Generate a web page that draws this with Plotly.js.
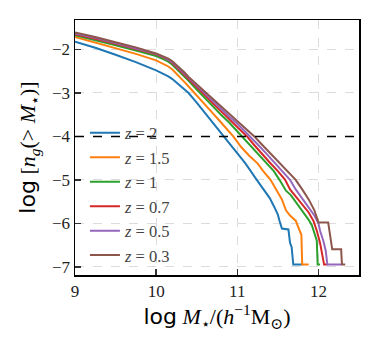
<!DOCTYPE html>
<html>
<head>
<meta charset="utf-8">
<script src="https://cdn.plot.ly/plotly-3.0.1.min.js"></script>
<style>
  html, body { margin: 0; padding: 0; background: #fff; }
  #my_graph { width: 379px; height: 345px; }
</style>
</head>
<body>
<div id="my_graph"></div>
<script>
// cumulative stellar mass functions
const labels = ['2', '1.5', '1', '0.7', '0.5', '0.3'];
const colors = ['#1f77b4', '#ff7f0e', '#2ca02c', '#d62728', '#9467bd', '#8c564b'];

const x_z2  = [9.0, 9.25, 9.5, 9.75, 10.0, 10.1, 10.15, 10.2, 10.25, 10.3, 10.35, 10.4, 10.5, 10.6, 10.7, 10.83, 10.9, 11.0, 11.1, 11.24, 11.3, 11.35, 11.4, 11.45, 11.5, 11.52, 11.55, 11.63, 11.65, 11.67, 11.69, 11.80];
const y_z2  = [-1.82, -1.96, -2.12, -2.29, -2.48, -2.57, -2.62, -2.68, -2.75, -2.84, -2.92, -3.0, -3.22, -3.45, -3.68, -4.0, -4.15, -4.38, -4.62, -5.0, -5.15, -5.3, -5.42, -5.6, -5.8, -5.94, -6.12, -6.14, -6.45, -6.55, -6.95, -6.95];

const x_z15 = [9.0, 9.25, 9.5, 9.75, 10.0, 10.1, 10.15, 10.2, 10.25, 10.3, 10.35, 10.4, 10.5, 10.6, 10.7, 10.8, 10.95, 11.05, 11.15, 11.25, 11.32, 11.41, 11.5, 11.55, 11.6, 11.65, 11.72, 11.77, 11.79, 11.80, 11.88];
const y_z15 = [-1.71, -1.84, -1.97, -2.10, -2.25, -2.34, -2.39, -2.46, -2.55, -2.65, -2.75, -2.85, -3.05, -3.25, -3.47, -3.68, -4.0, -4.25, -4.45, -4.62, -4.8, -5.0, -5.3, -5.45, -5.7, -5.82, -5.94, -6.17, -6.27, -6.95, -6.95];

const x_z1  = [9.0, 9.25, 9.5, 9.75, 10.0, 10.1, 10.15, 10.2, 10.25, 10.3, 10.35, 10.4, 10.5, 10.6, 10.7, 10.8, 10.9, 11.06, 11.15, 11.25, 11.35, 11.45, 11.52, 11.6, 11.66, 11.72, 11.8, 11.88, 11.92, 11.97, 11.98, 11.99, 12.02];
const y_z1  = [-1.67, -1.78, -1.90, -2.02, -2.15, -2.23, -2.28, -2.35, -2.44, -2.53, -2.62, -2.72, -2.92, -3.12, -3.32, -3.50, -3.68, -4.0, -4.2, -4.4, -4.58, -4.8, -5.0, -5.25, -5.35, -5.5, -5.72, -5.92, -6.05, -6.3, -6.4, -6.95, -6.95];

const x_z07 = [9.0, 9.25, 9.5, 9.75, 10.0, 10.1, 10.15, 10.2, 10.25, 10.3, 10.35, 10.4, 10.5, 10.6, 10.7, 10.8, 10.9, 11.0, 11.12, 11.2, 11.3, 11.4, 11.5, 11.59, 11.65, 11.72, 11.8, 11.88, 11.94, 11.98, 12.02, 12.05, 12.07, 12.11];
const y_z07 = [-1.65, -1.75, -1.87, -1.99, -2.11, -2.19, -2.24, -2.31, -2.40, -2.49, -2.58, -2.68, -2.86, -3.05, -3.24, -3.42, -3.60, -3.78, -4.0, -4.18, -4.4, -4.6, -4.8, -5.0, -5.22, -5.38, -5.58, -5.75, -5.95, -6.17, -6.45, -6.79, -6.95, -6.95];

const x_z05 = [9.0, 9.25, 9.5, 9.75, 10.0, 10.1, 10.15, 10.2, 10.25, 10.3, 10.35, 10.4, 10.5, 10.6, 10.7, 10.8, 10.9, 11.0, 11.16, 11.25, 11.35, 11.45, 11.55, 11.65, 11.72, 11.8, 11.87, 11.95, 12.0, 12.02, 12.06, 12.09, 12.11, 12.28];
const y_z05 = [-1.63, -1.73, -1.85, -1.97, -2.10, -2.18, -2.23, -2.29, -2.38, -2.47, -2.56, -2.66, -2.83, -3.01, -3.19, -3.37, -3.54, -3.71, -4.0, -4.18, -4.38, -4.58, -4.8, -5.0, -5.22, -5.42, -5.6, -5.82, -6.0, -6.17, -6.4, -6.63, -6.95, -6.95];

const x_z03 = [9.0, 9.25, 9.5, 9.75, 10.0, 10.1, 10.15, 10.2, 10.25, 10.3, 10.35, 10.4, 10.5, 10.6, 10.7, 10.8, 10.9, 11.0, 11.1, 11.21, 11.3, 11.4, 11.5, 11.6, 11.72, 11.8, 11.88, 11.95, 12.0, 12.12, 12.14, 12.17, 12.28, 12.29, 12.33];
const y_z03 = [-1.61, -1.71, -1.83, -1.95, -2.09, -2.17, -2.21, -2.27, -2.35, -2.44, -2.53, -2.63, -2.80, -2.97, -3.14, -3.31, -3.48, -3.65, -3.82, -4.0, -4.18, -4.38, -4.58, -4.78, -5.0, -5.22, -5.45, -5.7, -5.98, -5.98, -6.2, -6.6, -6.6, -6.95, -6.95];

const xs = [x_z2, x_z15, x_z1, x_z07, x_z05, x_z03];
const ys = [y_z2, y_z15, y_z1, y_z07, y_z05, y_z03];

const cut_level = -4;

const serif = 'Liberation Serif, DejaVu Serif, serif';

const data = labels.map((lab, i) => ({
    x: xs[i],
    y: ys[i],
    mode: 'lines',
    name: '<i>z</i> = ' + lab,
    line: {color: colors[i], width: 2},
    hoverinfo: 'skip'
}));

const axis_common = {
    showline: true,
    mirror: true,
    linecolor: '#000',
    linewidth: 1.5,
    ticks: 'inside',
    ticklen: 6,
    tickwidth: 1.5,
    tickcolor: '#333',
    showgrid: true,
    gridcolor: '#dcdcdc',
    griddash: 'dash',
    gridwidth: 1,
    zeroline: false,
    tickfont: {family: serif, size: 17, color: '#222'}
};

const layout = {
    width: 379,
    height: 345,
    margin: {l: 75, r: 20, t: 20, b: 70},
    paper_bgcolor: '#fff',
    plot_bgcolor: '#fff',
    showlegend: true,
    legend: {
        x: 0.035, y: 0.625, xanchor: 'left', yanchor: 'top',
        bgcolor: 'rgba(0,0,0,0)',
        borderwidth: 0,
        font: {family: serif, size: 16.5, color: '#444'}
    },
    xaxis: Object.assign({}, axis_common, {
        range: [9, 12.5],
        tickvals: [9, 10, 11, 12],
        title: {
            text: '<span style="font-family:DejaVu Sans">log</span> <i>M</i><sub>⋆</sub>/(<i>h</i><sup>−1</sup>M<sub>⊙</sub>)',
            font: {family: serif, size: 22, color: '#000'},
            standoff: 1
        }
    }),
    yaxis: Object.assign({}, axis_common, {
        range: [-7.19, -1.32],
        tickvals: [-7, -6, -5, -4, -3, -2],
        title: {
            text: '<span style="font-family:DejaVu Sans">log</span> [<i>n</i><sub><i>g</i></sub>(> <i>M</i><sub>⋆</sub>)]',
            font: {family: serif, size: 22, color: '#000'},
            standoff: 10
        }
    }),
    shapes: [{
        type: 'line', xref: 'paper', yref: 'y',
        x0: 0, x1: 1, y0: cut_level, y1: cut_level,
        line: {color: '#000', width: 1.5, dash: 'dash'},
        layer: 'above'
    }]
};

Plotly.newPlot('my_graph', data, layout, {staticPlot: true, displayModeBar: false});
</script>
</body>
</html>
